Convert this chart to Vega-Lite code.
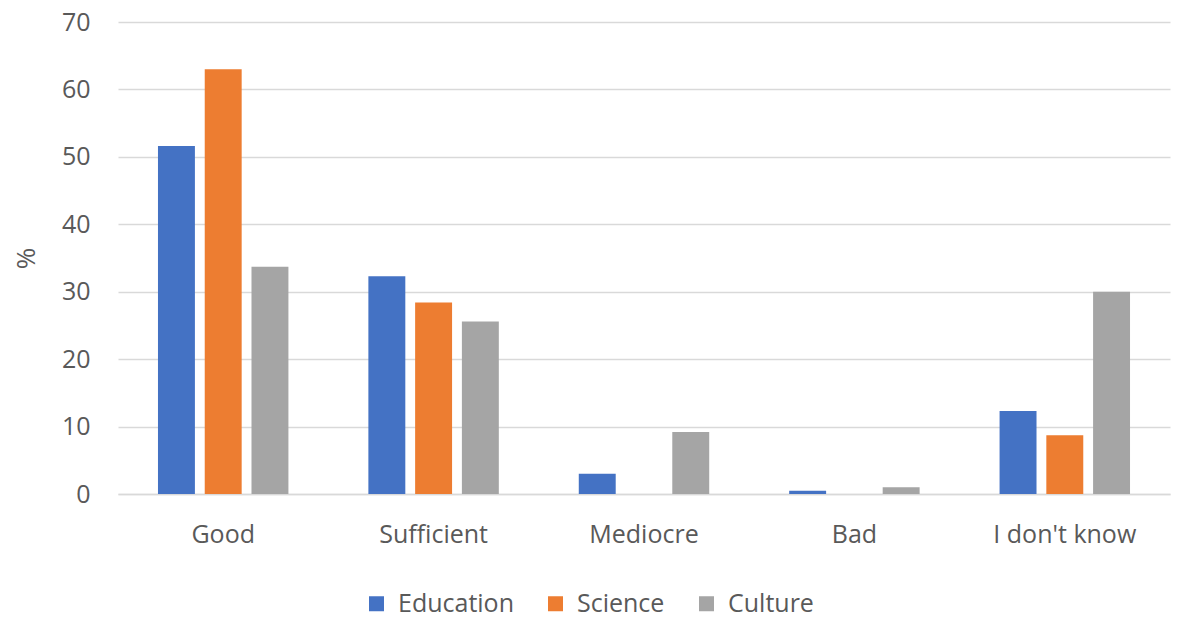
{
  "$schema": "https://vega.github.io/schema/vega-lite/v6.json",
  "width": 1052,
  "height": 472,
  "autosize": "none",
  "padding": {"left": 118, "top": 22, "right": 11, "bottom": 129},
  "background": "white",
  "config": {
    "view": {"stroke": null},
    "font": "Open Sans",
    "axis": {"labelColor": "#595959", "titleColor": "#595959", "labelFont": "Open Sans", "titleFont": "Open Sans"}
  },
  "data": {
    "values": [
      {"category": "Good", "series": "Education", "value": 51.6},
      {"category": "Good", "series": "Science", "value": 63.0},
      {"category": "Good", "series": "Culture", "value": 33.7},
      {"category": "Sufficient", "series": "Education", "value": 32.3},
      {"category": "Sufficient", "series": "Science", "value": 28.4},
      {"category": "Sufficient", "series": "Culture", "value": 25.6},
      {"category": "Mediocre", "series": "Education", "value": 3.0},
      {"category": "Mediocre", "series": "Science", "value": 0},
      {"category": "Mediocre", "series": "Culture", "value": 9.2},
      {"category": "Bad", "series": "Education", "value": 0.5},
      {"category": "Bad", "series": "Science", "value": 0},
      {"category": "Bad", "series": "Culture", "value": 1.0},
      {"category": "I don't know", "series": "Education", "value": 12.3},
      {"category": "I don't know", "series": "Science", "value": 8.7},
      {"category": "I don't know", "series": "Culture", "value": 30.0}
    ]
  },
  "mark": {"type": "bar"},
  "encoding": {
    "x": {
      "field": "category",
      "type": "nominal",
      "sort": ["Good", "Sufficient", "Mediocre", "Bad", "I don't know"],
      "scale": {"paddingInner": 0.38, "paddingOuter": 0.19},
      "axis": {
        "title": null,
        "labelAngle": 0,
        "labelFontSize": 25,
        "labelPadding": 28,
        "ticks": false,
        "domain": true,
        "domainColor": "#d9d9d9",
        "domainWidth": 1.5
      }
    },
    "xOffset": {
      "field": "series",
      "type": "nominal",
      "sort": ["Education", "Science", "Culture"],
      "scale": {"paddingInner": 0.21, "paddingOuter": 0}
    },
    "y": {
      "field": "value",
      "type": "quantitative",
      "scale": {"domain": [0, 70], "nice": false},
      "axis": {
        "title": "%",
        "titleFontSize": 26,
        "titleFontWeight": "normal",
        "titlePadding": 22,
        "values": [0, 10, 20, 30, 40, 50, 60, 70],
        "labelFontSize": 25,
        "labelPadding": 28,
        "ticks": false,
        "domain": false,
        "gridColor": "#d9d9d9",
        "gridWidth": 1.5
      }
    },
    "color": {
      "field": "series",
      "type": "nominal",
      "sort": ["Education", "Science", "Culture"],
      "scale": {"domain": ["Education", "Science", "Culture"], "range": ["#4472C4", "#ED7D31", "#A5A5A5"]},
      "legend": {
        "title": null,
        "orient": "none",
        "direction": "horizontal",
        "legendX": 246,
        "legendY": 569,
        "symbolType": "square",
        "symbolSize": 225,
        "symbolStrokeWidth": 0,
        "labelFontSize": 25,
        "labelColor": "#595959",
        "labelOffset": 9,
        "columnPadding": 29
      }
    }
  }
}
